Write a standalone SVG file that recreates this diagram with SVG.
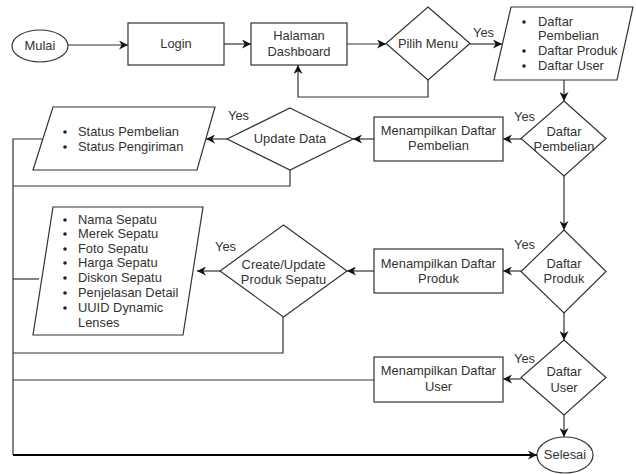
<svg xmlns="http://www.w3.org/2000/svg" width="636" height="474" viewBox="0 0 636 474">
<style>
.s{fill:#fff;stroke:#333;stroke-width:1.2}
.c{fill:none;stroke:#333;stroke-width:1.2}
.t{font-family:"Liberation Sans",Arial,sans-serif;font-size:12.9px;fill:#333}
.m{text-anchor:middle}
.b{fill:#222}
</style>
<defs>
<marker id="a" viewBox="0 0 10 10" refX="10" refY="5" markerWidth="9" markerHeight="9" markerUnits="userSpaceOnUse" orient="auto">
<path d="M0,0 L10,5 L0,10 L3,5 z" fill="#111"/>
</marker>
</defs>
<rect width="636" height="474" fill="#fff"/>
<g id="connectors">
<path class="c" d="M68,45 H128" marker-end="url(#a)"/>
<path class="c" d="M224,44 H251" marker-end="url(#a)"/>
<path class="c" d="M347,44 H386" marker-end="url(#a)"/>
<path class="c" d="M428,80 V97 H298 V65" marker-end="url(#a)"/>
<path class="c" d="M470,44 H502" marker-end="url(#a)"/>
<path class="c" d="M564,80 V101" marker-end="url(#a)"/>
<path class="c" d="M521,139 H503" marker-end="url(#a)"/>
<path class="c" d="M374,139 H353" marker-end="url(#a)"/>
<path class="c" d="M227,139 H206" marker-end="url(#a)"/>
<path class="c" d="M43,139 H13 V455"/>
<path class="c" d="M290,170 V186 H13"/>
<path class="c" d="M564,176 V230" marker-end="url(#a)"/>
<path class="c" d="M521,271 H503" marker-end="url(#a)"/>
<path class="c" d="M374,271 H347" marker-end="url(#a)"/>
<path class="c" d="M220,271 H197" marker-end="url(#a)"/>
<path class="c" d="M39,279 H13"/>
<path class="c" d="M283,317 V353 H13"/>
<path class="c" d="M564,313 V340" marker-end="url(#a)"/>
<path class="c" d="M521,379 H503" marker-end="url(#a)"/>
<path class="c" d="M374,380 H13"/>
<path class="c" d="M564,415 V437" marker-end="url(#a)"/>
<path d="M13,455 H537" fill="none" stroke="#000" stroke-width="2" marker-end="url(#a)"/>
<text class="t" x="473" y="37">Yes</text>
<text class="t" x="228" y="120">Yes</text>
<text class="t" x="514" y="121">Yes</text>
<text class="t" x="215" y="251">Yes</text>
<text class="t" x="514" y="249">Yes</text>
<text class="t" x="514" y="363">Yes</text>
</g>
<g id="mulai">
<ellipse class="s" cx="40" cy="46" rx="28" ry="16"/>
<text class="t m" x="40" y="50">Mulai</text>
</g>
<g id="login">
<rect class="s" x="128" y="23" width="96" height="42"/>
<text class="t m" x="176" y="48">Login</text>
</g>
<g id="dashboard">
<rect class="s" x="251" y="23" width="96" height="42"/>
<text class="t m" x="299" y="40">Halaman</text>
<text class="t m" x="299" y="56">Dashboard</text>
</g>
<g id="pilih-menu">
<polygon class="s" points="428,7 470,43.5 428,80 386,43.5"/>
<text class="t m" x="428" y="48">Pilih Menu</text>
</g>
<g id="daftar-menu">
<polygon class="s" points="511,7 633,7 617,80 494,80"/>
<circle class="b" cx="524" cy="22" r="1.8"/>
<circle class="b" cx="524" cy="51" r="1.8"/>
<circle class="b" cx="524" cy="66" r="1.8"/>
<text class="t" x="538" y="26">Daftar</text>
<text class="t" x="538" y="40">Pembelian</text>
<text class="t" x="538" y="55">Daftar Produk</text>
<text class="t" x="538" y="70">Daftar User</text>
</g>
<g id="daftar-pembelian">
<polygon class="s" points="564,101 606,138.5 564,176 521,138.5"/>
<text class="t m" x="564" y="136">Daftar</text>
<text class="t m" x="564" y="151">Pembelian</text>
</g>
<g id="tampil-pembelian">
<rect class="s" x="374" y="117" width="129" height="44"/>
<text class="t m" x="438.5" y="135">Menampilkan Daftar</text>
<text class="t m" x="438.5" y="150">Pembelian</text>
</g>
<g id="update-data">
<polygon class="s" points="290,108 353,139 290,170 227,139"/>
<text class="t m" x="290" y="143">Update Data</text>
</g>
<g id="status">
<polygon class="s" points="53,107 215,107 197,170 33,170"/>
<circle class="b" cx="65" cy="132" r="1.8"/>
<circle class="b" cx="65" cy="147" r="1.8"/>
<text class="t" x="78" y="136">Status Pembelian</text>
<text class="t" x="78" y="151">Status Pengiriman</text>
</g>
<g id="daftar-produk">
<polygon class="s" points="564,230 606,271.5 564,313 521,271.5"/>
<text class="t m" x="564" y="268">Daftar</text>
<text class="t m" x="564" y="283">Produk</text>
</g>
<g id="tampil-produk">
<rect class="s" x="374" y="249" width="129" height="44"/>
<text class="t m" x="438.5" y="268">Menampilkan Daftar</text>
<text class="t m" x="438.5" y="283">Produk</text>
</g>
<g id="create-update">
<polygon class="s" points="283.5,225 347,271 283.5,317 220,271"/>
<text class="t m" x="283.5" y="269">Create/Update</text>
<text class="t m" x="283.5" y="284">Produk Sepatu</text>
</g>
<g id="produk-data">
<polygon class="s" points="53,207 203,207 183,335 33,335"/>
<circle class="b" cx="65" cy="220" r="1.8"/>
<circle class="b" cx="65" cy="234" r="1.8"/>
<circle class="b" cx="65" cy="249" r="1.8"/>
<circle class="b" cx="65" cy="263" r="1.8"/>
<circle class="b" cx="65" cy="278" r="1.8"/>
<circle class="b" cx="65" cy="293" r="1.8"/>
<circle class="b" cx="65" cy="308" r="1.8"/>
<text class="t" x="78" y="224">Nama Sepatu</text>
<text class="t" x="78" y="238">Merek Sepatu</text>
<text class="t" x="78" y="253">Foto Sepatu</text>
<text class="t" x="78" y="267">Harga Sepatu</text>
<text class="t" x="78" y="282">Diskon Sepatu</text>
<text class="t" x="78" y="297">Penjelasan Detail</text>
<text class="t" x="78" y="312">UUID Dynamic</text>
<text class="t" x="78" y="327">Lenses</text>
</g>
<g id="daftar-user">
<polygon class="s" points="564,340 606,377.5 564,415 521,377.5"/>
<text class="t m" x="564" y="376">Daftar</text>
<text class="t m" x="564" y="392">User</text>
</g>
<g id="tampil-user">
<rect class="s" x="374" y="357" width="129" height="45"/>
<text class="t m" x="438.5" y="375">Menampilkan Daftar</text>
<text class="t m" x="438.5" y="391">User</text>
</g>
<g id="selesai">
<ellipse class="s" cx="565" cy="455" rx="28" ry="18"/>
<text class="t m" x="565" y="459">Selesai</text>
</g>
</svg>
